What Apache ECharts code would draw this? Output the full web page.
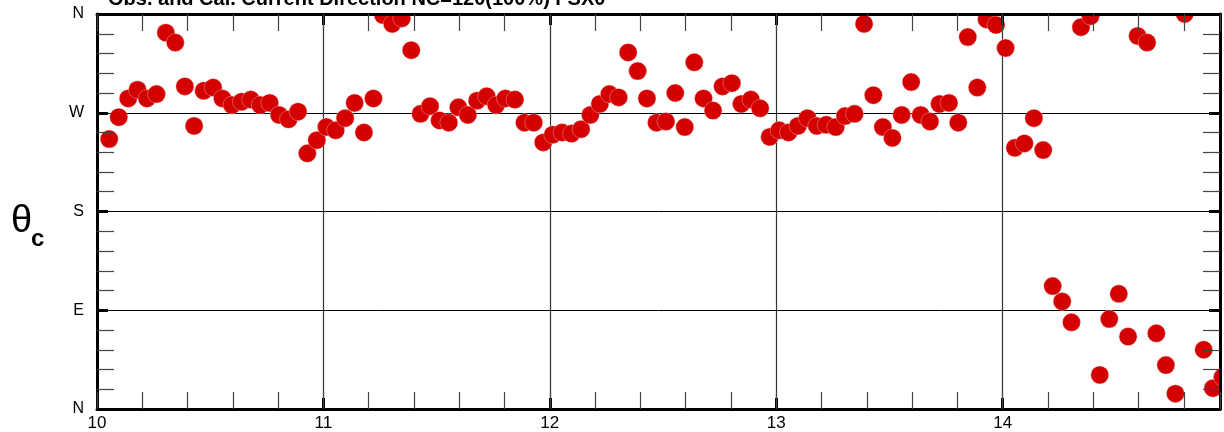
<!DOCTYPE html>
<html>
<head>
<meta charset="utf-8">
<script src="https://cdn.jsdelivr.net/npm/echarts@6/dist/echarts.min.js"></script>
<style>
html,body{margin:0;padding:0;background:#ffffff;}
#chart{width:1224px;height:432px;}
</style>
</head>
<body>
<div id="chart"></div>
<script>
// ---- data ----
const titleText = 'Obs. and Cal. Current Direction NC=120(100%) FSX0';
const yNameMain = 'θ';
const yNameSub = 'c';

// time in days
const times = [
  10.054, 10.096, 10.138, 10.179, 10.221, 10.263, 10.304, 10.346, 10.388, 10.429,
  10.471, 10.513, 10.554, 10.596, 10.638, 10.679, 10.721, 10.763, 10.804, 10.846,
  10.888, 10.929, 10.971, 11.013, 11.054, 11.096, 11.138, 11.179, 11.221, 11.263,
  11.304, 11.346, 11.388, 11.429, 11.471, 11.513, 11.554, 11.596, 11.638, 11.679,
  11.721, 11.763, 11.804, 11.846, 11.888, 11.929, 11.971, 12.013, 12.054, 12.096,
  12.138, 12.179, 12.221, 12.263, 12.304, 12.346, 12.388, 12.429, 12.471, 12.513,
  12.554, 12.596, 12.638, 12.679, 12.721, 12.763, 12.804, 12.846, 12.888, 12.929,
  12.971, 13.013, 13.054, 13.096, 13.138, 13.179, 13.221, 13.263, 13.304, 13.346,
  13.388, 13.429, 13.471, 13.513, 13.554, 13.596, 13.638, 13.679, 13.721, 13.763,
  13.804, 13.846, 13.888, 13.929, 13.971, 14.013, 14.054, 14.096, 14.138, 14.179,
  14.221, 14.263, 14.304, 14.346, 14.388, 14.429, 14.471, 14.513, 14.554, 14.596,
  14.638, 14.679, 14.721, 14.763, 14.804, 14.888, 14.929, 14.971
];

// current direction in degrees (0 = N, 90 = E, 180 = S, 270 = W, 360 = N)
const directions = [
  246, 266, 283, 291, 283, 287, 343, 334, 294, 258,
  290, 293, 283, 277, 280, 282, 277, 279, 268, 264,
  271, 233, 245, 257, 254, 265, 279, 252, 283, 359,
  351, 356, 327, 269, 276, 263, 261, 275, 268, 281,
  285, 277, 283, 282, 261, 261, 243, 250, 252, 251,
  255, 268, 278, 287, 284, 325, 308, 283, 261, 262,
  288, 257, 316, 283, 272, 294, 297, 278, 282, 274,
  248, 254, 252, 258, 265, 258, 259, 257, 267, 269,
  351, 286, 257, 247, 268, 298, 268, 262, 278, 279,
  261, 339, 293, 355, 350, 329, 238, 242, 265, 236,
  112, 98, 79, 348, 358, 31, 82, 105, 66, 340,
  334, 69, 40, 14, 360, 54, 19, 29
];

const xMin = 10;
const xMax = 14.96;
const xMajorStep = 1;
const xMinorStep = 0.2;
const yMin = 0;
const yMax = 360;
const yMajorStep = 90;
const yTickLabels = {0: 'N', 90: 'E', 180: 'S', 270: 'W', 360: 'N'};

// ---- chart ----
const FONT = "'Liberation Sans', Arial, Helvetica, sans-serif";
const points = times.map((t, i) => [t, directions[i]]);

function xAxisBase(extra) {
  return Object.assign({
    type: 'value', min: xMin, max: xMax, gridIndex: 0,
    axisLine: {show: false, onZero: false},
    axisTick: {show: false},
    axisLabel: {show: false},
    splitLine: {show: false},
    minorTick: {show: false}
  }, extra);
}
function yAxisBase(extra) {
  return Object.assign({
    type: 'value', min: yMin, max: yMax, interval: yMajorStep, gridIndex: 0,
    axisLine: {show: false, onZero: false},
    axisTick: {show: false},
    axisLabel: {show: false},
    splitLine: {show: false},
    minorTick: {show: false}
  }, extra);
}

const frameLine = {show: true, onZero: false, lineStyle: {color: '#000', width: 3}};
const majorTick = {show: true, inside: true, length: 11, lineStyle: {color: '#000', width: 3}};
const minorTickX = {show: true, inside: true, length: 17, lineStyle: {color: '#444', width: 1.2}};
const minorTickY = {show: true, splitNumber: 5, length: 17, lineStyle: {color: '#444', width: 1.2}};

const option = {
  backgroundColor: '#ffffff',
  animation: false,
  title: {
    text: titleText,
    left: 108, top: -11, padding: 0,
    textStyle: {fontFamily: FONT, fontSize: 20, fontWeight: 'bold', color: '#000'}
  },
  grid: {left: 97, right: 4, top: 14, bottom: 23, containLabel: false},
  xAxis: [
    // bottom: line, major ticks, labels
    xAxisBase({position: 'bottom', interval: xMajorStep, z: 5,
      axisLine: frameLine, axisTick: majorTick,
      axisLabel: {show: true, color: '#000', fontFamily: FONT, fontSize: 17, margin: 6,
        formatter: v => (Math.abs(v - Math.round(v)) < 1e-9 ? String(Math.round(v)) : '')}}),
    // bottom minor ticks
    xAxisBase({position: 'bottom', interval: xMinorStep, z: 5, axisTick: minorTickX}),
    // top: line, major ticks
    xAxisBase({position: 'top', interval: xMajorStep, z: 5, axisLine: frameLine, axisTick: majorTick}),
    // top minor ticks
    xAxisBase({position: 'top', interval: xMinorStep, z: 5, axisTick: minorTickX}),
    // vertical grid lines (behind points)
    xAxisBase({position: 'bottom', interval: xMajorStep, z: 0,
      splitLine: {show: true, lineStyle: {color: '#333', width: 1.2}}})
  ],
  yAxis: [
    yAxisBase({position: 'left', z: 5, axisLine: frameLine, axisTick: majorTick, minorTick: minorTickY,
      axisLabel: {show: true, color: '#000', fontFamily: FONT, fontSize: 16, margin: 13,
        formatter: v => (yTickLabels[v] !== undefined ? yTickLabels[v] : '')}}),
    yAxisBase({position: 'right', z: 5, axisLine: frameLine, axisTick: majorTick, minorTick: minorTickY}),
    yAxisBase({position: 'left', z: 0,
      splitLine: {show: true, lineStyle: {color: '#000', width: 1}}})
  ],
  graphic: [
    {type: 'text', x: 11, y: 222, z: 10,
      style: {text: yNameMain, font: '38px ' + FONT, fill: '#000', align: 'left', verticalAlign: 'middle'}},
    {type: 'text', x: 31, y: 239, z: 10,
      style: {text: yNameSub, font: 'bold 24px ' + FONT, fill: '#000', align: 'left', verticalAlign: 'middle'}}
  ],
  series: [{
    type: 'custom',
    name: 'direction',
    xAxisIndex: 0,
    yAxisIndex: 0,
    clip: true,
    z: 2,
    data: points,
    encode: {x: 0, y: 1},
    renderItem: function (params, api) {
      const p = api.coord([api.value(0), api.value(1)]);
      return {
        type: 'circle',
        shape: {cx: p[0], cy: p[1], r: 9},
        style: {fill: '#d40000', stroke: '#f6c8c8', lineWidth: 0.4}
      };
    }
  }]
};

const chart = echarts.init(document.getElementById('chart'), null, {renderer: 'canvas'});
chart.setOption(option);
</script>
</body>
</html>
